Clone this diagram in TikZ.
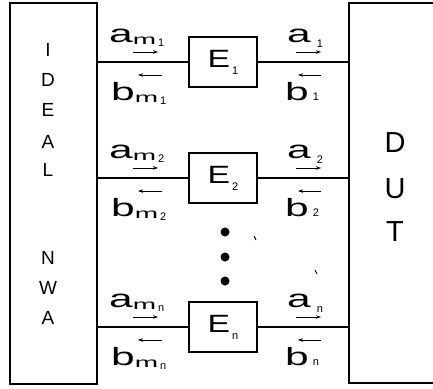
\documentclass[tikz,border=0pt]{standalone}
\usepackage{fontspec}
\setmainfont{Liberation Sans}
\usetikzlibrary{arrows.meta}
\newcommand{\fs}[1]{\fontsize{#1}{#1}\selectfont}
\newcommand{\wide}[2]{\scalebox{#1}[1]{#2}}
\newcommand{\sigltr}[1]{\wide{1.7}{\fs{25}#1}}
\newcommand{\msub}[1]{\raisebox{-2pt}{\wide{2}{\fs{14}m}\hspace{2pt}\raisebox{-2pt}{\fs{11}#1}}}
\begin{document}
\begin{tikzpicture}[x=1pt,y=-1pt,
  frame/.style={line width=1.8pt},
  ebox/.style={draw,line width=1.8pt,minimum width=68pt,minimum height=50pt,inner sep=0pt},
  sig/.style={inner sep=0pt,anchor=base west},
  flow/.style={line width=0.8pt,-{Stealth[length=5pt,width=3.5pt]}},
  ltr/.style={inner sep=0pt,font=\fs{19}},
  dltr/.style={inner sep=0pt,font=\fs{29}},
  dot/.style={circle,fill,inner sep=0pt,minimum size=9pt},
  speck/.style={line width=0.9pt}]
\useasboundingbox (0,0) rectangle (433,388);
% ideal network analyser
\node[draw,frame,minimum width=87pt,minimum height=381pt,inner sep=0pt] (nwa) at (53.5,193.5) {};
\foreach \c/\y [count=\i] in {I/50,D/80,E/110,A/142,L/170,N/258,W/288,A/318}
  \node[ltr] (l\i) at (48,\y) {\c};
% device under test (open to the right)
\node[minimum width=84pt,minimum height=380pt,inner sep=0pt] (dut) at (391,193) {};
\draw[frame] (dut.north east) -- (dut.north west) -- (dut.south west) -- (dut.south east);
\node[dltr] (d1) at (395,143) {D};
\node[dltr] (d2) at (395,189) {U};
\node[dltr] (d3) at (395,232) {T};
% error boxes and lines
\foreach \n/\y/\s in {1/62/1,2/178/2,3/327/n}{
  \node[ebox] (e\n) at (223,\y) {\wide{1.35}{\fs{25}E}\hspace{2pt}\raisebox{-7pt}{\fs{11}\s}};
  \draw[frame] (nwa.east |- e\n.west) -- (e\n.west);
  \draw[frame] (e\n.east) -- (dut.west |- e\n.east);
  \node[sig] (am\n) at (109,\y-20) {\sigltr{a}\msub{\s}};
  \node[sig] (bm\n) at (111,\y+38) {\sigltr{b}\msub{\s}};
  \node[sig] (a\n) at (287,\y-20) {\sigltr{a}\hspace{6pt}\raisebox{-5pt}{\fs{11}\s}};
  \node[sig] (b\n) at (285,\y+38) {\sigltr{b}\hspace{4pt}\fs{11}\s};
  \coordinate (pa\n) at (133,\y-10);
  \coordinate (pb\n) at (162,\y+13);
  \coordinate (qa\n) at (296,\y-10);
  \coordinate (qb\n) at (321,\y+13);
  \draw[flow] (pa\n) -- ++(25,0);
  \draw[flow] (pb\n) -- ++(-24,0);
  \draw[flow] (qa\n) -- ++(25,0);
  \draw[flow] (qb\n) -- ++(-23,0);
}
% continuation dots
\node[dot] (k1) at (225,232) {};
\node[dot] (k2) at (225,257) {};
\node[dot] (k3) at (225,281) {};
% scan specks
\draw[speck] (254,236) -- (256,240);
\draw[speck] (315,270) -- (317,274);
\end{tikzpicture}
\end{document}
